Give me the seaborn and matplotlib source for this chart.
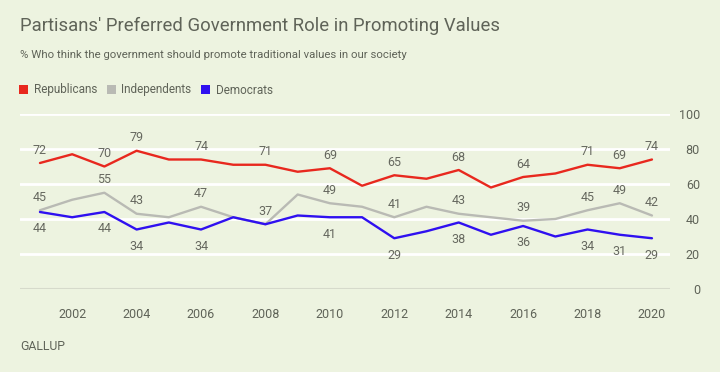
import matplotlib
matplotlib.use("Agg")
import matplotlib.pyplot as plt
import seaborn as sns
import pandas as pd
from matplotlib.patches import Patch

years = list(range(2001, 2021))
republicans = [72, 77, 70, 79, 74, 74, 71, 71, 67, 69, 59, 65, 63, 68, 58, 64, 66, 71, 69, 74]
independents = [45, 51, 55, 43, 41, 47, 41, 37, 54, 49, 47, 41, 47, 43, 41, 39, 40, 45, 49, 42]
democrats = [44, 41, 44, 34, 38, 34, 41, 37, 42, 41, 41, 29, 33, 38, 31, 36, 30, 34, 31, 29]
series_names = ["Republicans", "Independents", "Democrats"]
label_years_r = [2001, 2003, 2004, 2006, 2008, 2010, 2012, 2014, 2016, 2018, 2019, 2020]
label_years_i = [2001, 2003, 2004, 2006, 2008, 2010, 2012, 2014, 2016, 2018, 2019, 2020]
label_years_d = [2001, 2003, 2004, 2006, 2010, 2012, 2014, 2016, 2018, 2019, 2020]
x_ticks = list(range(2002, 2021, 2))
y_ticks = [0, 20, 40, 60, 80, 100]

title = "Partisans' Preferred Government Role in Promoting Values"
subtitle = "% Who think the government should promote traditional values in our society"
source = "GALLUP"

BG = "#edf3e0"
TXT = "#5f6358"
colors = {"Republicans": "#e8281e", "Independents": "#b9bab4", "Democrats": "#2f10f0"}

sns.set_theme(style="white")
plt.rcParams["font.family"] = ["Roboto", "DejaVu Sans"]

df = pd.DataFrame({
    "year": years * 3,
    "value": republicans + independents + democrats,
    "party": [series_names[0]] * 20 + [series_names[1]] * 20 + [series_names[2]] * 20,
})

fig = plt.figure(figsize=(7.2, 3.72), dpi=100, facecolor=BG)
ax = fig.add_axes([20 / 720, 1 - 289 / 372, 650 / 720, 175 / 372])
ax.set_facecolor(BG)

for yv in y_ticks[1:]:
    ax.axhline(yv, color="white", lw=2.0, zorder=0)
ax.axhline(0, color="#d6dacb", lw=1.5, zorder=1)

sns.lineplot(data=df, x="year", y="value", hue="party", palette=colors,
             hue_order=series_names, linewidth=1.7, legend=False, ax=ax, zorder=3)

ax.set_xlim(2000.38, 2020.56)
ax.set_ylim(0, 100)
ax.set_xlabel("")
ax.set_ylabel("")
for s in ax.spines.values():
    s.set_visible(False)

ax.set_xticks(x_ticks)
ax.set_xticklabels([str(t) for t in x_ticks])
ax.tick_params(axis="x", length=8, width=1.2, color="#d6dacb", pad=6,
               labelsize=9, labelcolor=TXT)
ax.set_yticks(y_ticks)
ax.yaxis.tick_right()
ax.tick_params(axis="y", length=0, pad=21.6, labelsize=9, labelcolor=TXT)
for lab in ax.get_yticklabels():
    lab.set_horizontalalignment("right")

def annotate(vals, lyears, dy):
    for yr in lyears:
        v = vals[years.index(yr)]
        ax.annotate(str(v), (yr, v), xytext=(0, dy), textcoords="offset points",
                    ha="center", va="center", fontsize=9, color="#66685f", zorder=5)

annotate(republicans, label_years_r, 9.3)
annotate(independents, label_years_i, 9.3)
annotate(democrats, label_years_d, -12.2)

fig.text(20 / 720, 1 - 26 / 372, title, fontsize=13.3, color=TXT, va="center", ha="left")
fig.text(20 / 720, 1 - 55 / 372, subtitle, fontsize=8.2, color=TXT, va="center", ha="left")

handles = [Patch(facecolor=colors[n], edgecolor="none", label=n) for n in series_names]
fig.legend(handles=handles, loc="center left", bbox_to_anchor=(19 / 720, 1 - 90 / 372),
           ncol=3, frameon=False, handlelength=0.8, handleheight=0.8,
           handletextpad=0.45, columnspacing=0.8, borderpad=0, borderaxespad=0,
           fontsize=8.5, labelcolor=TXT)

fig.text(20 / 720, 1 - 346 / 372, source, fontsize=8.8, color=TXT, va="center",
         ha="left", family=["Roboto", "DejaVu Sans"])

fig.savefig("out.png", dpi=100, facecolor=BG)
